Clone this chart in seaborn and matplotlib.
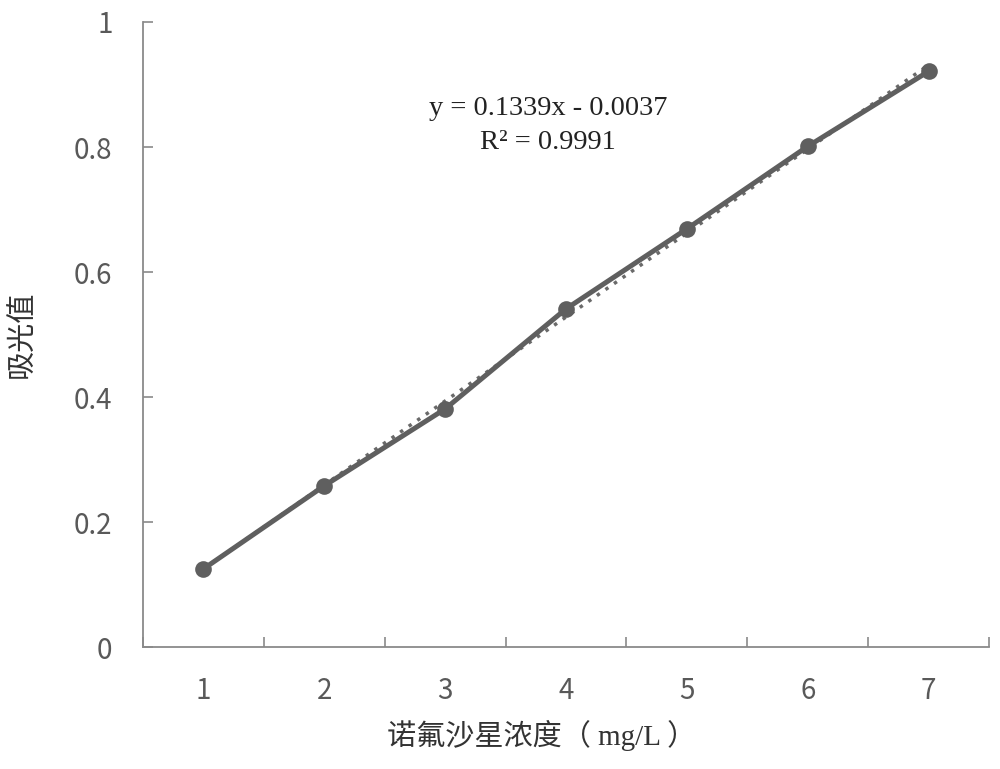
import numpy as np
import pandas as pd
import matplotlib
matplotlib.use("Agg")
import matplotlib.pyplot as plt
import seaborn as sns
from matplotlib.ticker import FixedLocator

concentration = [1, 2, 3, 4, 5, 6, 7]
absorbance = [0.125, 0.258, 0.381, 0.541, 0.669, 0.801, 0.921]
x_ticks = [1, 2, 3, 4, 5, 6, 7]
y_ticks = [0, 0.2, 0.4, 0.6, 0.8, 1.0]
y_tick_labels = ["0", "0.2", "0.4", "0.6", "0.8", "1"]
eq_text = "y = 0.1339x - 0.0037"
r2_text = "R² = 0.9991"
x_label = "诺氟沙星浓度（ mg/L ）"
y_label = "吸光值"

sns.set_theme(style="white")
plt.rcParams['font.family'] = ['Noto Sans CJK SC', 'DejaVu Sans']

df = pd.DataFrame({"c": concentration, "a": absorbance})

fig = plt.figure(figsize=(10, 7.69), dpi=100)
ax = fig.add_axes([0.143, 0.1586, 0.846, 0.8128])

line_color = "#5f5f5f"
sns.lineplot(data=df, x="c", y="a", ax=ax, color=line_color, linewidth=3.6,
             marker="o", markersize=12, markeredgewidth=0, markerfacecolor=line_color)

# linear trendline computed from data
coef = np.polyfit(concentration, absorbance, 1)
xs = np.array([concentration[0], concentration[-1]])
ax.plot(xs, np.polyval(coef, xs), linestyle=(0, (1, 2)), color="#6a6a6a", linewidth=2.5, zorder=1)

ax.set_xlim(0.5, 7.5)
ax.set_ylim(0, 1)
ax.set_xticks(x_ticks)
ax.set_xticklabels([str(v) for v in x_ticks])
ax.xaxis.set_minor_locator(FixedLocator(np.arange(0.5, 8.0, 1.0)))
ax.set_yticks(y_ticks)
ax.set_yticklabels(y_tick_labels)

tick_color = "#595959"
ax.tick_params(axis="x", which="major", length=0, pad=21, labelsize=20, labelcolor=tick_color)
ax.tick_params(axis="x", which="minor", direction="in", length=7, width=1.2, color="#8a8a8a", bottom=True)
ax.tick_params(axis="y", which="major", direction="in", length=7, width=1.2, color="#8a8a8a",
               left=True, pad=22, labelsize=20, labelcolor=tick_color)

for s in ["top", "right"]:
    ax.spines[s].set_visible(False)
for s in ["left", "bottom"]:
    ax.spines[s].set_color("#8a8a8a")
    ax.spines[s].set_linewidth(1.3)
ax.grid(False)

ax.set_xlabel(x_label, fontsize=21, color="#333333",
              family=["Liberation Serif", "Noto Sans CJK SC"])
ax.xaxis.set_label_coords(0.471, -0.142)
ax.xaxis.label.set_va("center")
ax.set_ylabel(y_label, fontsize=21, color="#333333")
ax.yaxis.set_label_coords(-0.142, 0.5)
ax.yaxis.label.set_va("center")

ax.text(0.479, 0.862, eq_text, transform=ax.transAxes, ha="center", va="center",
        fontsize=20.5, family=["Liberation Serif"], color="#222222")
ax.text(0.479, 0.808, r2_text, transform=ax.transAxes, ha="center", va="center",
        fontsize=20.5, family=["Liberation Serif"], color="#222222")

fig.savefig("out.png", dpi=100, facecolor="white")
